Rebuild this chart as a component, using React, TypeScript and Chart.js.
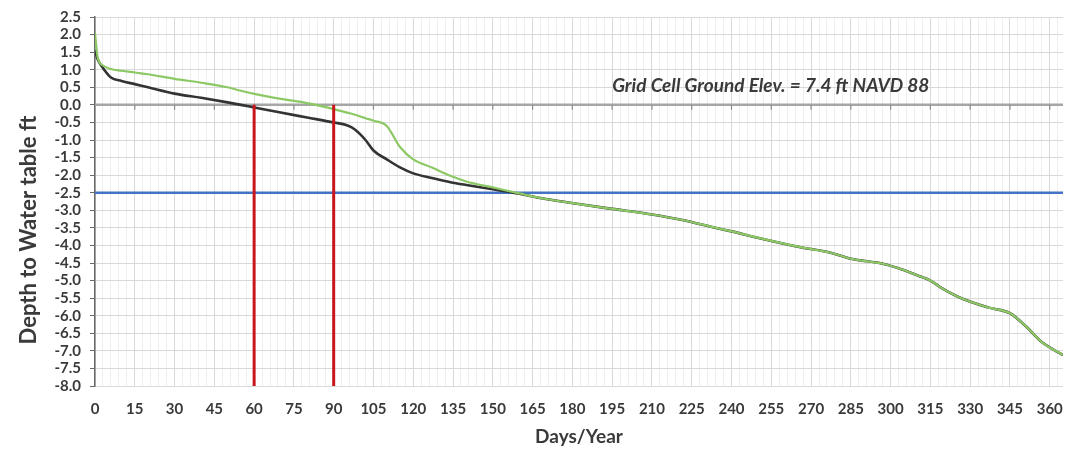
import React, { useEffect, useRef } from "react";
import { Chart, registerables } from "chart.js";

Chart.register(...registerables);

// ---- data ----
const days = [0, 1, 3, 6, 10, 15, 20, 30, 40, 50, 55, 61, 70, 80, 90, 95, 98, 102, 105, 110, 115, 120, 127, 134, 140, 150, 160, 170, 183, 195, 210, 221, 233, 240, 251, 266, 277, 285, 297, 303, 310, 315, 319, 326, 337, 345, 351, 357, 365];
const depthScenarioA = [1.55, 1.3, 1.05, 0.78, 0.68, 0.59, 0.5, 0.32, 0.2, 0.07, 0.0, -0.09, -0.22, -0.36, -0.5, -0.58, -0.7, -1.0, -1.3, -1.55, -1.78, -1.95, -2.08, -2.2, -2.28, -2.4, -2.53, -2.68, -2.83, -2.96, -3.12, -3.27, -3.48, -3.6, -3.8, -4.05, -4.2, -4.38, -4.52, -4.65, -4.85, -5.0, -5.2, -5.48, -5.77, -5.93, -6.3, -6.75, -7.12];
const depthScenarioB = [2.05, 1.35, 1.12, 1.02, 0.97, 0.92, 0.87, 0.74, 0.63, 0.5, 0.4, 0.3, 0.17, 0.05, -0.12, -0.22, -0.28, -0.38, -0.45, -0.6, -1.2, -1.55, -1.78, -2.02, -2.18, -2.35, -2.52, -2.68, -2.83, -2.96, -3.12, -3.27, -3.48, -3.6, -3.8, -4.05, -4.2, -4.38, -4.52, -4.65, -4.85, -5.0, -5.2, -5.48, -5.77, -5.93, -6.3, -6.75, -7.12];
const markerDays = [60, 90];
const thresholdDepth = -2.5;
const groundDepth = 0;
const dayMin = 0;
const dayMax = 365;
const depthMin = -8;
const depthMax = 2.5;
const annotationText = "Grid Cell Ground Elev. = 7.4 ft NAVD 88";
const annotationDay = 195;
const annotationDepth = 0.54;
const xTitle = "Days/Year";
const yTitle = "Depth to Water table ft";

if (typeof document !== "undefined") {
  document.body.style.margin = "0";
}

const FONT = "Lato, 'Open Sans', sans-serif";

const zeroLinePlugin = {
  id: "zeroLine",
  beforeDatasetsDraw(chart: any) {
    const { ctx, chartArea, scales } = chart;
    const x = scales.x;
    const y = scales.y;
    const py = y.getPixelForValue(groundDepth);
    ctx.save();
    ctx.strokeStyle = "#a6a6a6";
    ctx.lineWidth = 2.5;
    ctx.beginPath();
    ctx.moveTo(chartArea.left, py);
    ctx.lineTo(chartArea.right, py);
    ctx.stroke();
    ctx.lineWidth = 1.2;
    ctx.strokeStyle = "#8c8c8c";
    for (let d = 15; d <= 360; d += 15) {
      const px = x.getPixelForValue(d);
      ctx.beginPath();
      ctx.moveTo(px, py);
      ctx.lineTo(px, py + 5);
      ctx.stroke();
    }
    // annotation
    ctx.font = `italic bold 19px ${FONT}`;
    ctx.fillStyle = "#3a3a3a";
    ctx.textAlign = "left";
    ctx.textBaseline = "middle";
    ctx.fillText(annotationText, x.getPixelForValue(annotationDay), y.getPixelForValue(annotationDepth));
    ctx.restore();
  },
  afterDraw(chart: any) {
    const { ctx } = chart;
    ctx.save();
    ctx.translate(29, 230);
    ctx.rotate(-Math.PI / 2);
    ctx.font = `bold 22px ${FONT}`;
    ctx.fillStyle = "#3a3a3a";
    ctx.textAlign = "center";
    ctx.textBaseline = "middle";
    ctx.fillText(yTitle, 0, 0);
    ctx.restore();
  },
};

export default function App() {
  const ref = useRef<HTMLCanvasElement | null>(null);
  useEffect(() => {
    if (!ref.current) return;
    const lineA = days.map((d, i) => ({ x: d, y: depthScenarioA[i] }));
    const lineB = days.map((d, i) => ({ x: d, y: depthScenarioB[i] }));
    const markers = markerDays.map((d) => ({
      type: "line",
      data: [{ x: d, y: groundDepth }, { x: d, y: depthMin }],
      borderColor: "#c8161d",
      borderWidth: 3,
      pointRadius: 0,
      tension: 0,
    }));
    const chart = new Chart(ref.current, {
      type: "line",
      data: {
        datasets: [
          ...markers,
          {
            data: lineB,
            borderColor: "#8cc864",
            borderWidth: 2.2,
            pointRadius: 0,
            cubicInterpolationMode: "monotone",
          },
          {
            data: lineA,
            borderColor: "#333333",
            borderWidth: 2.6,
            pointRadius: 0,
            cubicInterpolationMode: "monotone",
          },
          {
            data: [{ x: dayMin, y: thresholdDepth }, { x: dayMax, y: thresholdDepth }],
            borderColor: "#4472c4",
            borderWidth: 2.5,
            pointRadius: 0,
          },
        ] as any,
      },
      options: {
        animation: false,
        responsive: true,
        maintainAspectRatio: false,
        layout: { padding: { top: 17, right: 2, left: 0, bottom: 0 } },
        plugins: { legend: { display: false }, tooltip: { enabled: false } },
        scales: {
          xMinor: {
            type: "linear",
            position: "top",
            min: dayMin,
            max: dayMax,
            ticks: { display: false, stepSize: 3, includeBounds: false },
            grid: {
              color: (c: any) => (c.tick && c.tick.value % 15 === 0 ? "rgba(0,0,0,0)" : "#eeeeee"),
              drawTicks: false,
            },
            border: { display: false },
            afterFit: (s: any) => {
              s.height = 0;
              s.paddingLeft = 0;
              s.paddingRight = 0;
            },
          },
          x: {
            type: "linear",
            position: "bottom",
            min: dayMin,
            max: dayMax,
            ticks: {
              stepSize: 15,
              includeBounds: false,
              autoSkip: false,
              maxRotation: 0,
              padding: 14,
              color: "#3a3a3a",
              font: { family: FONT, size: 15, weight: "bold" },
            },
            grid: { color: "#d9d9d9", drawTicks: false },
            border: { display: false },
            title: {
              display: true,
              text: xTitle,
              color: "#3a3a3a",
              font: { family: FONT, size: 19, weight: "bold" },
              padding: { top: 0, bottom: 4 },
            },
            afterFit: (s: any) => {
              s.height = 66;
              s.paddingLeft = 0;
              s.paddingRight = 0;
            },
          },
          y: {
            type: "linear",
            min: depthMin,
            max: depthMax,
            ticks: {
              stepSize: 0.5,
              autoSkip: false,
              padding: 9,
              color: "#3a3a3a",
              font: { family: FONT, size: 15, weight: "bold" },
              callback: (v: any) => Number(v).toFixed(1),
            },
            grid: { color: "#d9d9d9", tickLength: 5, tickColor: "#6a6a6a" },
            border: { color: "#6a6a6a", width: 1.5 },
            afterFit: (s: any) => {
              s.width = 95;
              s.paddingTop = 0;
              s.paddingBottom = 0;
            },
          },
        },
      } as any,
      plugins: [zeroLinePlugin],
    });
    return () => chart.destroy();
  }, []);
  return (
    <div style={{ width: 1065, height: 452, position: "relative" }}>
      <canvas ref={ref} />
    </div>
  );
}
